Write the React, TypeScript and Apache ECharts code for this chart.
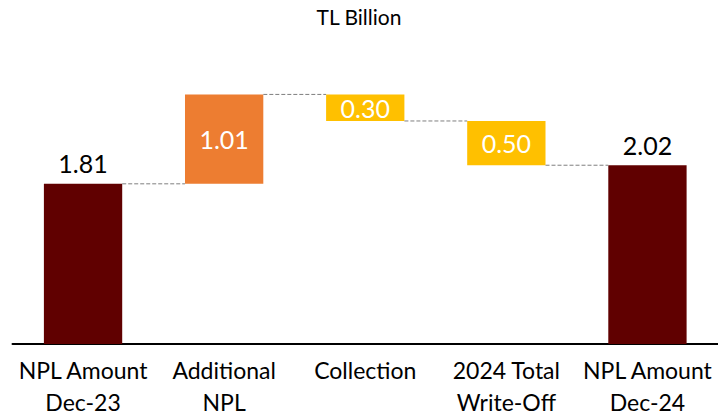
import React, { useEffect, useRef } from "react";
import * as echarts from "echarts";

const categories = ["NPL Amount\nDec-23", "Additional\nNPL", "Collection", "2024 Total\nWrite-Off", "NPL Amount\nDec-24"];
const changes = [1.81, 1.01, -0.3, -0.5, 2.02];
const kinds = ["total", "increase", "decrease", "decrease", "total"];
const colors = { total: "#600000", increase: "#ED7D31", decrease: "#FFC000" };
const titleText = "TL Billion";

const FONT = "Lato";

export default function App() {
  const ref = useRef<HTMLDivElement>(null);
  useEffect(() => {
    if (!ref.current) return;
    const chart = echarts.init(ref.current, null, { renderer: "svg" });

    const bases: number[] = [];
    const heights: number[] = [];
    const levels: number[] = [];
    let running = 0;
    changes.forEach((v, i) => {
      if (kinds[i] === "total") {
        bases.push(0);
        heights.push(v);
        running = v;
      } else if (v >= 0) {
        bases.push(running);
        heights.push(v);
        running += v;
      } else {
        running += v;
        bases.push(running);
        heights.push(-v);
      }
      levels.push(running);
    });
    const connectors = levels.slice(0, -1).map((lv, i) => [i, lv]);
    const barRatio = 0.555;

    chart.setOption({
      animation: false,
      title: {
        text: titleText,
        left: "center",
        top: 6,
        padding: 0,
        textStyle: { fontFamily: FONT, fontSize: 21, fontWeight: "normal", color: "#000" },
      },
      grid: { left: 12.5, right: -2.8, top: 78.5, bottom: 71, containLabel: false },
      xAxis: {
        type: "category",
        data: categories,
        axisLine: { lineStyle: { color: "#000", width: 2 } },
        axisTick: { show: false },
        axisLabel: {
          interval: 0,
          margin: 10,
          color: "#000",
          fontFamily: FONT,
          fontSize: 23,
          lineHeight: 32,
        },
      },
      yAxis: { type: "value", min: 0, max: 3, show: false, splitLine: { show: false } },
      series: [
        {
          type: "bar",
          stack: "wf",
          data: bases,
          barWidth: barRatio * 100 + "%",
          itemStyle: { color: "transparent" },
          silent: true,
        },
        {
          type: "bar",
          stack: "wf",
          barWidth: barRatio * 100 + "%",
          data: heights.map((h, i) => ({
            value: h,
            itemStyle: { color: colors[kinds[i] as keyof typeof colors] },
            label: {
              show: true,
              position: kinds[i] === "total" ? "top" : "inside",
              distance: 8,
              color: kinds[i] === "total" ? "#000" : "#fff",
              fontFamily: FONT,
              fontSize: 25,
              formatter: () => Math.abs(changes[i]).toFixed(2),
            },
          })),
        },
        {
          type: "custom",
          data: connectors,
          z: 5,
          renderItem: (params: any, api: any) => {
            const idx = api.value(0);
            const lv = api.value(1);
            const p1 = api.coord([idx, lv]);
            const p2 = api.coord([idx + 1, lv]);
            const band = api.size([1, 0])[0];
            const half = (band * barRatio) / 2;
            return {
              type: "line",
              shape: { x1: p1[0] + half, y1: p1[1], x2: p2[0] - half, y2: p2[1] },
              style: { stroke: "#7f7f7f", lineWidth: 1, lineDash: [4, 2] },
            };
          },
        },
      ],
    });
    return () => chart.dispose();
  }, []);
  return (
    <div
      ref={ref}
      style={{ position: "fixed", left: 0, top: 0, width: 718, height: 418, background: "#fff" }}
    />
  );
}
